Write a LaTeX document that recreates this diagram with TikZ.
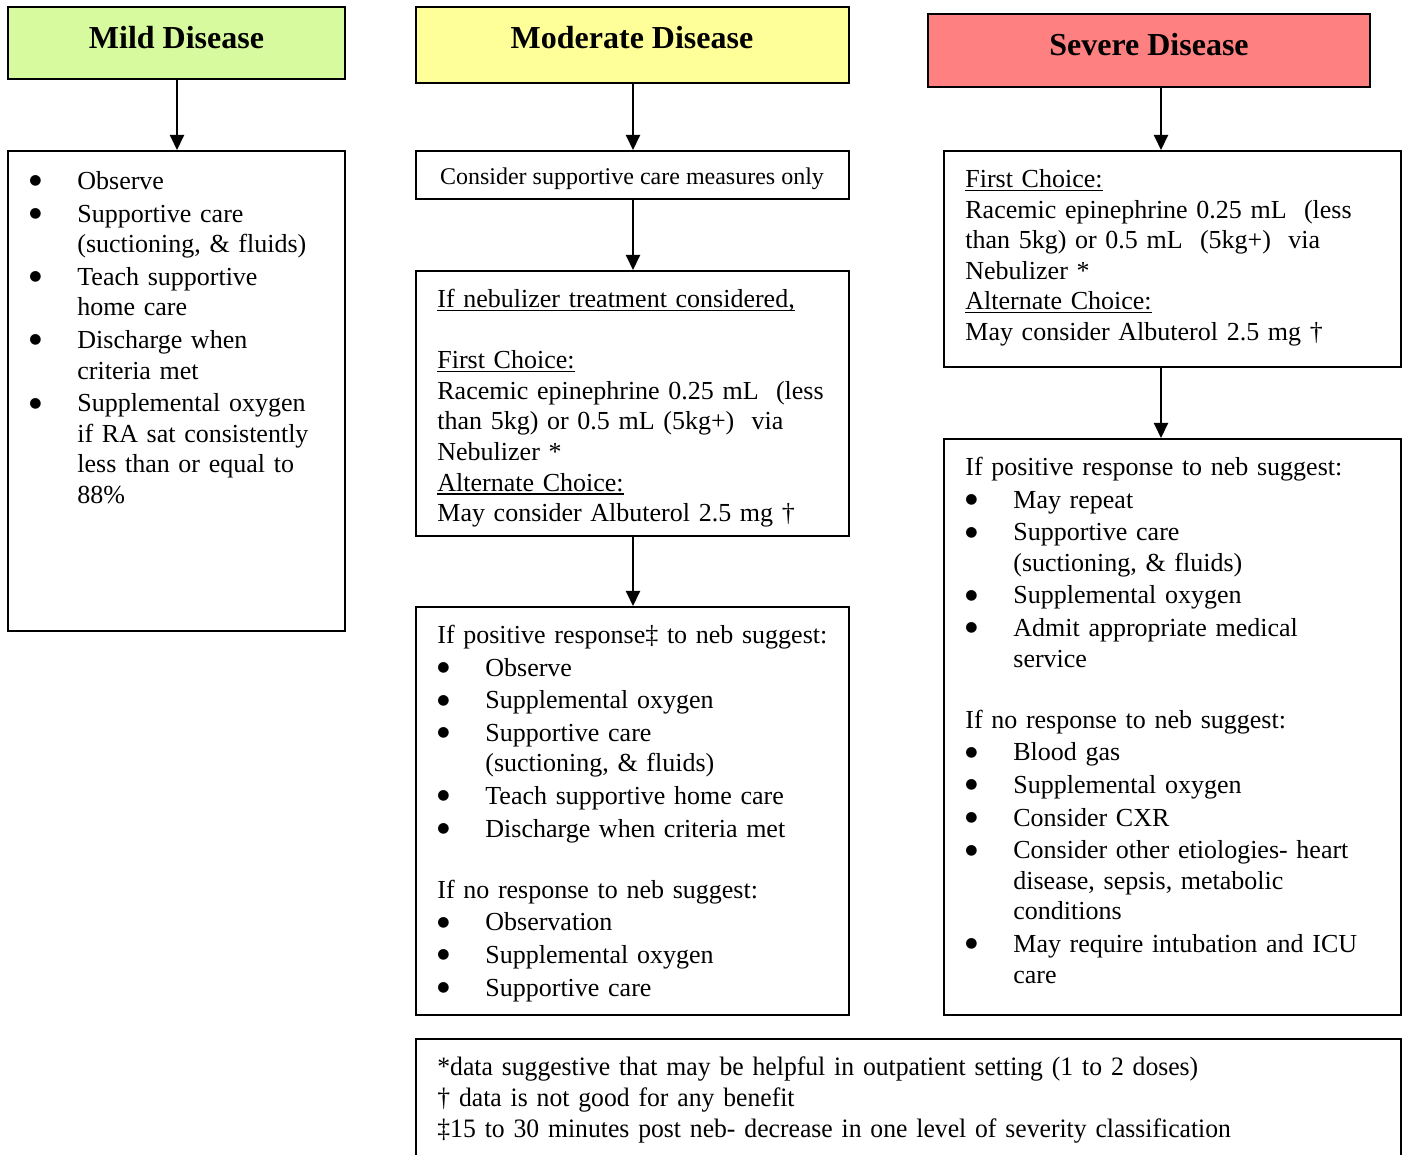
\documentclass[tikz,border=0pt]{standalone}
\usepackage{fontspec}
\setmainfont{Liberation Serif}
\newfontfamily\bodyfam{Liberation Serif}[WordSpace=0.75]
\newfontfamily\footfam{Liberation Serif}[WordSpace=0.75,FakeStretch=0.965]
\newfontfamily\bulfont{DejaVu Sans}
\usetikzlibrary{arrows.meta,fit}
\definecolor{mildgreen}{RGB}{216,250,158}
\definecolor{modyellow}{RGB}{255,255,153}
\definecolor{sevred}{RGB}{255,128,128}
\newcommand\bodyfont{\bodyfam\fontsize{13.0}{15.3}\selectfont}
\newcommand\bul{\leavevmode\hspace*{24pt}\llap{\makebox[0pt]{\raisebox{2.3pt}{\bulfont\fontsize{7}{7}\selectfont ●}}\hspace{21pt}}}
\newcommand\ind{\hspace*{24pt}}
\newcommand\bg{\\[1pt]}
\newcommand\uln[1]{\leavevmode\setbox0\hbox{#1}\rlap{\rule[-1.8pt]{\wd0}{0.6pt}}\box0}
\begin{document}
\begin{tikzpicture}[x=0.5pt,y=-0.5pt,
  box/.style={draw=black,line width=1pt,inner sep=0pt},
  htext/.style={font=\fontsize{16}{19}\selectfont\bfseries,inner sep=0pt,anchor=base},
  btext/.style={font=\bodyfont,inner sep=0pt,anchor=north west,align=left,text width=#1},
  btext/.default=220pt,
  arr/.style={line width=1pt,-{Triangle[length=7.5pt,width=7pt]}}]
\useasboundingbox (0,0) rectangle (1405,1155);
\clip (0,0) rectangle (1405,1155);
\fill[white] (0,0) rectangle (1405,1155);

% headers
\node[box,fill=mildgreen,fit={(8,7) (345,79)}] (mildH) {};
\node[box,fill=modyellow,fit={(416,7) (849,83)}] (modH) {};
\node[box,fill=sevred,fit={(928,14) (1370,87)}] (sevH) {};
\node[htext] (mildT) at (176.5,49) {Mild Disease};
\node[htext] (modT) at (632,49) {Moderate Disease};
\node[htext] (sevT) at (1149,56) {Severe Disease};

% boxes
\node[box,fit={(8,151) (345,631)}] (mildB) {};
\node[box,fit={(416,151) (849,199)}] (modB1) {};
\node[box,fit={(416,271) (849,536)}] (modB2) {};
\node[box,fit={(416,607) (849,1015)}] (modB3) {};
\node[box,fit={(944,151) (1401,367)}] (sevB1) {};
\node[box,fit={(944,439) (1401,1015)}] (sevB2) {};
\node[box,fit={(416,1039) (1401,1190)}] (foot) {};

% texts
\node[btext] (mildX) at (29,167.6) {\noindent\bul\strut Observe\bg
\bul Supportive care\\
\ind (suctioning, \& fluids)\bg
\bul Teach supportive\\
\ind home care\bg
\bul Discharge when\\
\ind criteria met\bg
\bul Supplemental oxygen\\
\ind if RA sat consistently\\
\ind less than or equal to\\
\ind 88\%};

\node[font=\fontsize{12}{14}\selectfont,inner sep=0pt,anchor=base] (modX1) at (632,185) {Consider supportive care measures only};

\node[btext] (modX2) at (437,285.6) {\noindent\strut\uln{If nebulizer treatment considered,}\\
\mbox{}\\
\uln{First Choice:}\\
Racemic epinephrine 0.25 mL\ \ (less\\
than 5kg) or 0.5 mL (5kg+)\ \ via\\
Nebulizer *\\
\uln{Alternate Choice:}\\
May consider Albuterol 2.5 mg †};

\node[btext] (modX3) at (437,621.6) {\noindent\strut If positive response‡ to neb suggest:\bg
\bul Observe\bg
\bul Supplemental oxygen\bg
\bul Supportive care\\
\ind (suctioning, \& fluids)\bg
\bul Teach supportive home care\bg
\bul Discharge when criteria met\\[15.3pt]
If no response to neb suggest:\bg
\bul Observation\bg
\bul Supplemental oxygen\bg
\bul Supportive care};

\node[btext] (sevX1) at (965,165.6) {\noindent\strut\uln{First Choice:}\\
Racemic epinephrine 0.25 mL\ \ (less\\
than 5kg) or 0.5 mL\ \ (5kg+)\ \ via\\
Nebulizer *\\
\uln{Alternate Choice:}\\
May consider Albuterol 2.5 mg †};

\node[btext] (sevX2) at (965,453.6) {\noindent\strut If positive response to neb suggest:\bg
\bul May repeat\bg
\bul Supportive care\\
\ind (suctioning, \& fluids)\bg
\bul Supplemental oxygen\bg
\bul Admit appropriate medical\\
\ind service\\[15.3pt]
If no response to neb suggest:\bg
\bul Blood gas\bg
\bul Supplemental oxygen\bg
\bul Consider CXR\bg
\bul Consider other etiologies- heart\\
\ind disease, sepsis, metabolic\\
\ind conditions\bg
\bul May require intubation and ICU\\
\ind care};

\node[btext=480pt,font=\footfam\fontsize{13.3}{15.5}\selectfont] (footX) at (437,1053.6) {\noindent\strut *data suggestive that may be helpful in outpatient setting (1 to 2 doses)\\
† data is not good for any benefit\\
‡15 to 30 minutes post neb- decrease in one level of severity classification};

% arrows
\coordinate (cmild) at (177,0);
\coordinate (cmod) at (633,0);
\coordinate (csev) at (1161,0);
\draw[arr] (mildH.south -| cmild) -- (mildB.north -| cmild);
\draw[arr] (modH.south -| cmod) -- (modB1.north -| cmod);
\draw[arr] (modB1.south -| cmod) -- (modB2.north -| cmod);
\draw[arr] (modB2.south -| cmod) -- (modB3.north -| cmod);
\draw[arr] (sevH.south -| csev) -- (sevB1.north -| csev);
\draw[arr] (sevB1.south -| csev) -- (sevB2.north -| csev);
\end{tikzpicture}
\end{document}
